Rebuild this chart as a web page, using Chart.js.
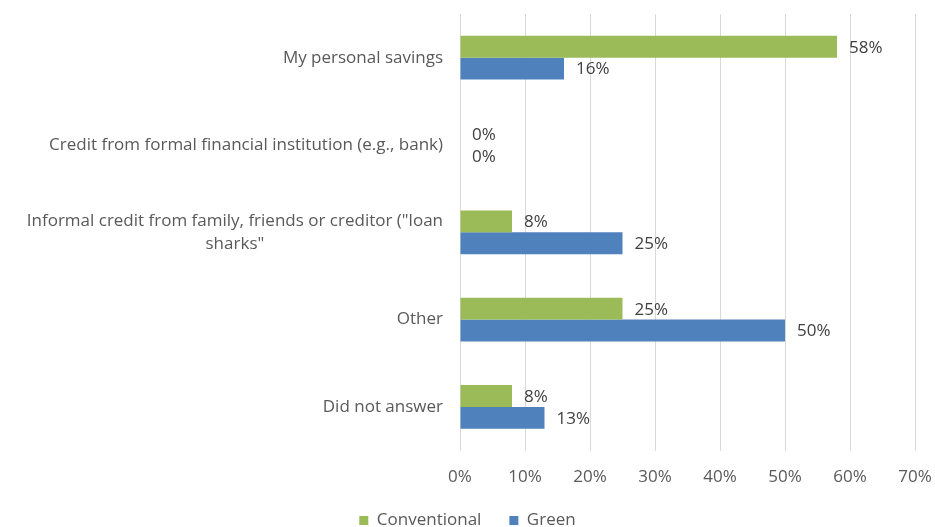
<!DOCTYPE html>
<html>
<head>
<meta charset="utf-8">
<script src="https://cdn.jsdelivr.net/npm/chart.js@4/dist/chart.umd.min.js"></script>
<style>
  html, body { margin: 0; padding: 0; background: #fff; }
  #wrap { width: 935px; height: 527px; }
</style>
</head>
<body>
<div id="wrap"><canvas id="chart"></canvas></div>
<script>
// data
var categories = [
    "My personal savings",
    "Credit from formal financial institution (e.g., bank)",
    ["Informal credit from family, friends or creditor (\"loan", "sharks\""],
    "Other",
    "Did not answer"
];
var conventional = [58, 0, 8, 25, 8];
var green = [16, 0, 25, 50, 13];
var xTicks = [0, 10, 20, 30, 40, 50, 60, 70];

var FONT = "'Open Sans', sans-serif";
var TEXT = "#595959";
var SIZE = 17;

// y labels drawn by hand so the wrapped one is centred like the original
var yLabels = {
    id: "yLabels",
    afterDraw: function (chart) {
        var ctx = chart.ctx;
        var y = chart.scales.y;
        ctx.save();
        ctx.font = SIZE + "px " + FONT;
        ctx.fillStyle = TEXT;
        ctx.textBaseline = "middle";
        categories.forEach(function (lab, i) {
            var cy = y.getPixelForValue(i);
            var right = chart.chartArea.left - 17;
            if (Array.isArray(lab)) {
                var w = Math.max.apply(null, lab.map(function (s) { return ctx.measureText(s).width; }));
                var cx = right - w / 2;
                var lh = 23;
                ctx.textAlign = "center";
                lab.forEach(function (s, k) {
                    ctx.fillText(s, cx, cy + (k - (lab.length - 1) / 2) * lh);
                });
            } else {
                ctx.textAlign = "right";
                ctx.fillText(lab, right, cy);
            }
        });
        ctx.restore();
    }
};

// value labels at the end of each bar
var valueLabels = {
    id: "valueLabels",
    afterDatasetsDraw: function (chart) {
        var ctx = chart.ctx;
        ctx.save();
        ctx.font = SIZE + "px " + FONT;
        ctx.fillStyle = "#404040";
        ctx.textAlign = "left";
        ctx.textBaseline = "middle";
        chart.data.datasets.forEach(function (ds, di) {
            chart.getDatasetMeta(di).data.forEach(function (bar, i) {
                ctx.fillText(ds.data[i] + "%", bar.x + 12, bar.y + 1);
            });
        });
        ctx.restore();
    }
};

new Chart(document.getElementById("chart").getContext("2d"), {
    type: "bar",
    data: {
        labels: categories,
        datasets: [{
            label: "Conventional",
            data: conventional,
            backgroundColor: "#9BBB59",
            categoryPercentage: 0.5,
            barPercentage: 1.0
        }, {
            label: "Green",
            data: green,
            backgroundColor: "#4F81BD",
            categoryPercentage: 0.5,
            barPercentage: 1.0
        }]
    },
    options: {
        indexAxis: "y",
        responsive: true,
        maintainAspectRatio: false,
        animation: false,
        layout: { padding: { top: 14, right: 0, bottom: -12, left: 0 } },
        scales: {
            x: {
                min: 0,
                max: 70,
                afterBuildTicks: function (s) {
                    s.ticks = xTicks.map(function (v) { return { value: v }; });
                },
                afterFit: function (s) {
                    s.paddingRight = 20;
                    s.height -= 19;
                },
                grid: { color: "#d9d9d9", drawTicks: false },
                border: { display: false },
                ticks: {
                    color: TEXT,
                    font: { family: FONT, size: SIZE },
                    padding: 16,
                    callback: function (v) { return v + "%"; }
                }
            },
            y: {
                grid: { display: false },
                border: { display: false },
                ticks: { display: false },
                afterFit: function (s) { s.width = 460; }
            }
        },
        plugins: {
            legend: {
                position: "bottom",
                labels: {
                    color: TEXT,
                    font: { family: FONT, size: SIZE },
                    boxWidth: 9,
                    boxHeight: 9,
                    padding: 28
                }
            },
            tooltip: { enabled: false }
        }
    },
    plugins: [yLabels, valueLabels]
});
</script>
</body>
</html>
